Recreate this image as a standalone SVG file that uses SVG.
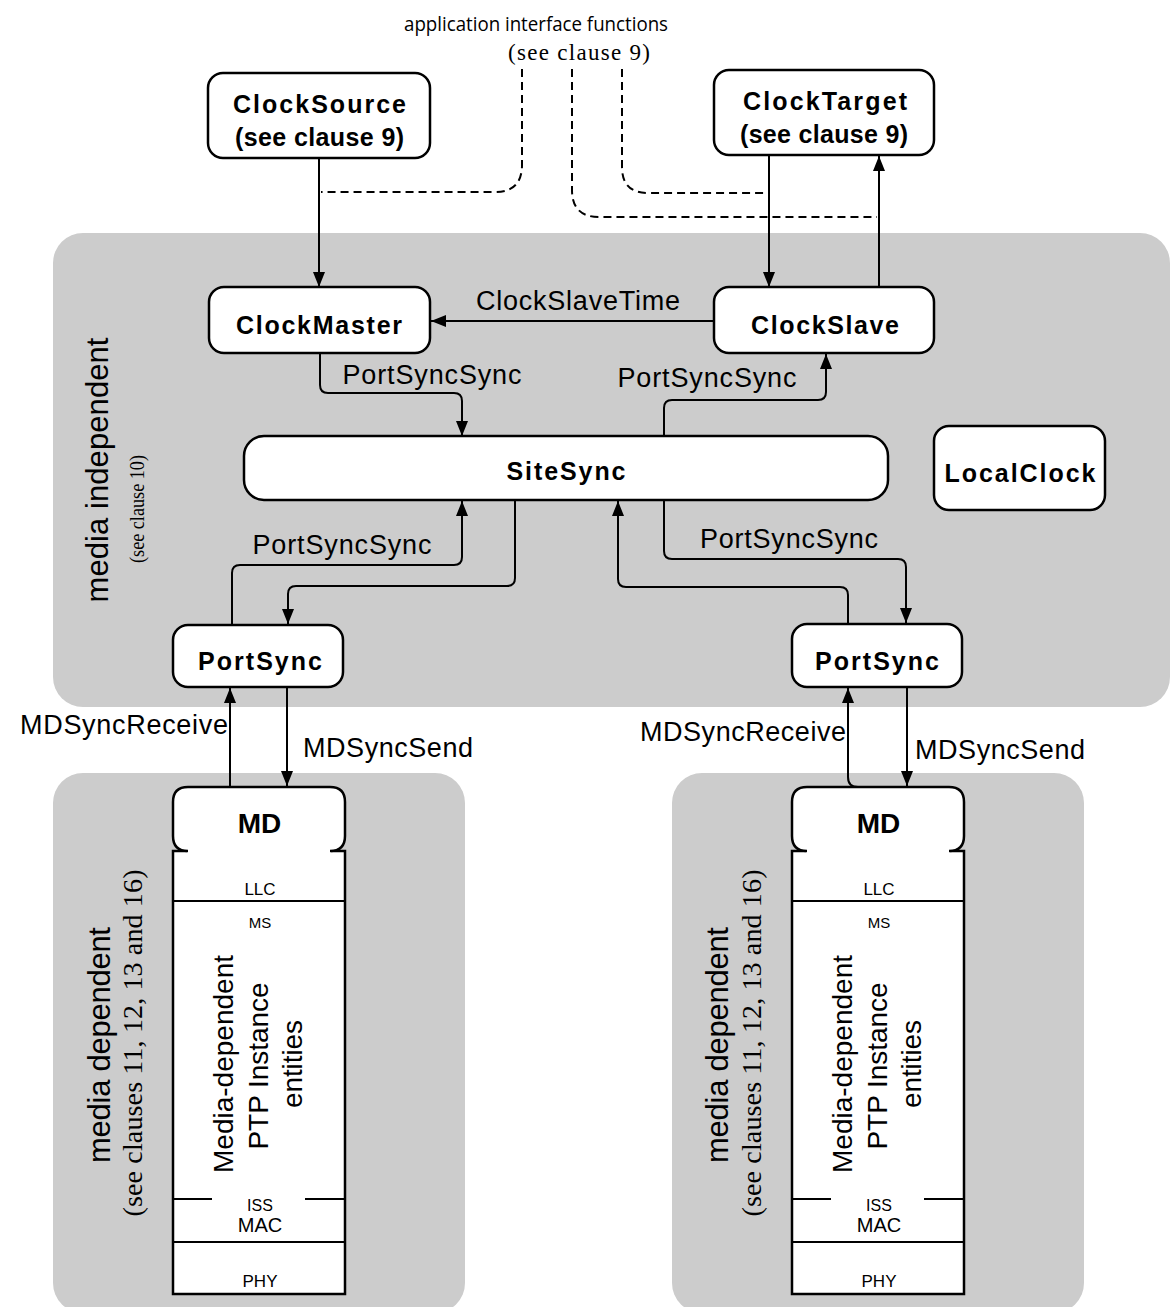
<svg xmlns="http://www.w3.org/2000/svg" width="1171" height="1307" viewBox="0 0 1171 1307">
<style>
.panel{fill:#cccccc}
.box{fill:#fff;stroke:#000;stroke-width:2.5}
.ln{fill:none;stroke:#000;stroke-width:2}
.conn{fill:none;stroke:#000;stroke-width:2;marker-end:url(#ah)}
.dash{fill:none;stroke:#000;stroke-width:2;stroke-dasharray:8 5}
.b{font-family:"Liberation Sans",Arial,sans-serif;font-weight:bold;font-size:25px;text-anchor:middle;fill:#000}
.l{font-family:"Liberation Sans",Arial,sans-serif;font-size:27px;fill:#000}
.s{font-family:"Liberation Sans",Arial,sans-serif;font-size:16px;text-anchor:middle;fill:#000}
.t{font-family:"Liberation Serif","Times New Roman",serif;font-size:22px;text-anchor:middle;fill:#000}
.m{text-anchor:middle}
</style>
<defs>
<marker id="ah" viewBox="0 0 15 12" refX="15" refY="6" markerWidth="15" markerHeight="12" markerUnits="userSpaceOnUse" orient="auto">
<path d="M0,0 L15,6 L0,12 z" fill="#000"/>
</marker>
</defs>
<rect width="1171" height="1307" fill="#fff"/>

<g id="panels">
<rect class="panel" x="53" y="233" width="1117" height="474" rx="30"/>
<rect class="panel" x="53" y="773" width="412" height="540" rx="30"/>
<rect class="panel" x="672" y="773" width="412" height="540" rx="30"/>
</g>

<g id="panel-labels">
<text x="536" y="31" style="font-family:'Open Sans',sans-serif;font-size:20px;text-anchor:middle" textLength="264" lengthAdjust="spacingAndGlyphs">application interface functions</text>
<text class="t" x="579" y="60" style="font-size:23px" textLength="142">(see clause 9)</text>
<text class="l m" x="108" y="470" transform="rotate(-90 108 470)" style="font-size:31px" textLength="265">media independent</text>
<text class="t" x="144" y="509" transform="rotate(-90 144 509)" style="font-size:22px" textLength="108" lengthAdjust="spacingAndGlyphs">(see clause 10)</text>
<text class="l m" x="110" y="1045" transform="rotate(-90 110 1045)" style="font-size:31px" textLength="236">media dependent</text>
<text class="t" x="142" y="1043" transform="rotate(-90 142 1043)" style="font-size:28px" textLength="347">(see clauses 11, 12, 13 and 16)</text>
<text class="l m" x="728" y="1045" transform="rotate(-90 728 1045)" style="font-size:31px" textLength="236">media dependent</text>
<text class="t" x="761" y="1043" transform="rotate(-90 761 1043)" style="font-size:28px" textLength="347">(see clauses 11, 12, 13 and 16)</text>
</g>

<g id="connectors">
<path class="dash" d="M522,69 V165 Q522,192 495,192 H321"/>
<path class="dash" d="M572,69 V190 Q572,217 599,217 H877"/>
<path class="dash" d="M622,69 V167 Q622,193 648,193 H767"/>
<path class="conn" d="M319,158 V287"/>
<path class="conn" d="M769,155 V287"/>
<path class="conn" d="M879,287 V156"/>
<path class="conn" d="M714,321 H431"/>
<path class="conn" d="M320,353 V385 Q320,393 328,393 H454 Q462,393 462,401 V436"/>
<path class="conn" d="M664,436 V408 Q664,400 672,400 H818 Q826,400 826,392 V354"/>
<path class="conn" d="M232,625 V573 Q232,565 240,565 H454 Q462,565 462,557 V501"/>
<path class="conn" d="M515,500 V578 Q515,586 507,586 H296 Q288,586 288,594 V624"/>
<path class="conn" d="M664,500 V551 Q664,559 672,559 H898 Q906,559 906,567 V623"/>
<path class="conn" d="M848,624 V595 Q848,587 840,587 H626 Q618,587 618,579 V501"/>
<path class="conn" d="M230,787 V688"/>
<path class="conn" d="M287,687 V786"/>
<path class="conn" d="M858,787 Q848,787 848,777 V688"/>
<path class="conn" d="M907,687 V786"/>
<text class="l m" x="578" y="310" textLength="204">ClockSlaveTime</text>
<text class="l m" x="432" y="384" textLength="179">PortSyncSync</text>
<text class="l m" x="707" y="387" textLength="179">PortSyncSync</text>
<text class="l m" x="342" y="554" textLength="179">PortSyncSync</text>
<text class="l m" x="789" y="548" textLength="178">PortSyncSync</text>
<text class="l m" x="124" y="734" textLength="208">MDSyncReceive</text>
<text class="l m" x="388" y="757" textLength="170">MDSyncSend</text>
<text class="l m" x="743" y="741" textLength="206">MDSyncReceive</text>
<text class="l m" x="1000" y="759" textLength="170">MDSyncSend</text>
</g>

<g id="ClockSource">
<rect class="box" x="208" y="73" width="222" height="85" rx="15"/>
<text class="b" x="319.5" y="113" textLength="173">ClockSource</text>
<text class="b" x="319.5" y="146" textLength="169">(see clause 9)</text>
</g>
<g id="ClockTarget">
<rect class="box" x="714" y="70" width="220" height="85" rx="15"/>
<text class="b" x="825" y="110" textLength="164">ClockTarget</text>
<text class="b" x="824" y="143" textLength="168">(see clause 9)</text>
</g>
<g id="ClockMaster">
<rect class="box" x="209" y="287" width="221" height="66" rx="15"/>
<text class="b" x="319" y="334" textLength="166">ClockMaster</text>
</g>
<g id="ClockSlave">
<rect class="box" x="714" y="287" width="220" height="66" rx="15"/>
<text class="b" x="825" y="334" textLength="148">ClockSlave</text>
</g>
<g id="SiteSync">
<rect class="box" x="244" y="436" width="644" height="64" rx="20"/>
<text class="b" x="566" y="480" textLength="119">SiteSync</text>
</g>
<g id="LocalClock">
<rect class="box" x="934" y="426" width="171" height="84" rx="15"/>
<text class="b" x="1020" y="482" textLength="151">LocalClock</text>
</g>
<g id="PortSync-left">
<rect class="box" x="173" y="625" width="170" height="62" rx="15"/>
<text class="b" x="260" y="670" textLength="124">PortSync</text>
</g>
<g id="PortSync-right">
<rect class="box" x="792" y="624" width="170" height="63" rx="15"/>
<text class="b" x="877" y="670" textLength="124">PortSync</text>
</g>

<g id="MD-left">
<path class="box" d="M187,851 H173 V1294 H345 V851 H331"/>
<path class="box" d="M188,851 Q173,851 173,836 V802 Q173,787 188,787 H330 Q345,787 345,802 V836 Q345,851 330,851"/>
<rect x="191" y="845" width="136" height="10" fill="#fff"/>
<path class="ln" d="M173,901 H345 M173,1199 H212 M305,1199 H345 M173,1242 H345"/>
<text class="b" x="259.5" y="833" style="font-size:28px">MD</text>
<text class="s" x="260" y="895" style="font-size:17px">LLC</text>
<text class="s" x="260" y="928" style="font-size:15px">MS</text>
<text class="l m" x="233" y="1064" transform="rotate(-90 233 1064)" style="font-size:28px" textLength="218">Media-dependent</text>
<text class="l m" x="268" y="1066" transform="rotate(-90 268 1066)" style="font-size:28px" textLength="167">PTP Instance</text>
<text class="l m" x="302" y="1064" transform="rotate(-90 302 1064)" style="font-size:28px" textLength="88">entities</text>
<text class="s" x="260" y="1211">ISS</text>
<text class="s" x="260" y="1232" style="font-size:20px">MAC</text>
<text class="s" x="260" y="1287" style="font-size:17px">PHY</text>
</g>

<g id="MD-right" transform="translate(619,0)">
<path class="box" d="M187,851 H173 V1294 H345 V851 H331"/>
<path class="box" d="M188,851 Q173,851 173,836 V802 Q173,787 188,787 H330 Q345,787 345,802 V836 Q345,851 330,851"/>
<rect x="191" y="845" width="136" height="10" fill="#fff"/>
<path class="ln" d="M173,901 H345 M173,1199 H212 M305,1199 H345 M173,1242 H345"/>
<text class="b" x="259.5" y="833" style="font-size:28px">MD</text>
<text class="s" x="260" y="895" style="font-size:17px">LLC</text>
<text class="s" x="260" y="928" style="font-size:15px">MS</text>
<text class="l m" x="233" y="1064" transform="rotate(-90 233 1064)" style="font-size:28px" textLength="218">Media-dependent</text>
<text class="l m" x="268" y="1066" transform="rotate(-90 268 1066)" style="font-size:28px" textLength="167">PTP Instance</text>
<text class="l m" x="302" y="1064" transform="rotate(-90 302 1064)" style="font-size:28px" textLength="88">entities</text>
<text class="s" x="260" y="1211">ISS</text>
<text class="s" x="260" y="1232" style="font-size:20px">MAC</text>
<text class="s" x="260" y="1287" style="font-size:17px">PHY</text>
</g>
</svg>
